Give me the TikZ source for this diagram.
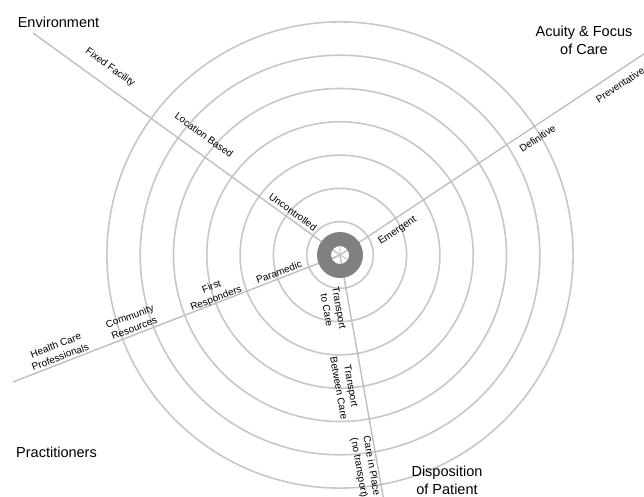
\documentclass[tikz,border=0pt]{standalone}
\usepackage{fontspec}
\setmainfont{Liberation Sans}
\begin{document}
\begin{tikzpicture}[x=1pt,y=-1pt,
  ring/.style={draw=black!22,line width=1.6pt},
  axis/.style={draw=black!25,line width=1.4pt},
  lbl/.style={font=\fontsize{10}{12.5}\selectfont,align=center,inner sep=0pt},
  head/.style={font=\fontsize{14.5}{18}\selectfont,align=center,inner sep=0pt}]
\useasboundingbox (0,0) rectangle (644,497);
\coordinate (ctr) at (340,255);
% rings
\foreach \r in {1,...,7}
  \draw[ring] (ctr) circle[radius={33.3pt*\r}];
% the four axes
\coordinate (envend) at (33,33);
\coordinate (acuend) at (662,42);
\coordinate (pracend) at (13,382);
\coordinate (dispend) at (385.5,510);
\draw[axis] (ctr) -- (envend);
\draw[axis] (ctr) -- (acuend);
\draw[axis] (ctr) -- (pracend);
\draw[axis] (ctr) -- (dispend);
% hub
\fill[black!50,even odd rule] (ctr) circle[radius=23pt] circle[radius=9pt];
\draw[black!22,line width=1pt] (ctr) -- ++(0,-8.5) (ctr) -- ++(-7.4,4.3) (ctr) -- ++(7.4,4.3);
% axis labels
\node[lbl,rotate=-36] (fixed) at (110,67.5) {Fixed Facility};
\node[lbl,rotate=-36] (locbased) at (204,135) {Location Based};
\node[lbl,rotate=-36] (uncontr) at (293,212) {Uncontrolled};
\node[lbl,rotate=33.6] (emergent) at (397.5,231) {Emergent};
\node[lbl,rotate=33.6] (definitive) at (537.5,138.5) {Definitive};
\node[lbl,rotate=33.6] (prevent) at (620,85) {Preventative};
\node[lbl,rotate=21] (paramedic) at (279,272) {Paramedic};
\node[lbl,rotate=21] (firstresp) at (214,293) {First\\Responders};
\node[lbl,rotate=21] (community) at (132,322) {Community\\Resources};
\node[lbl,rotate=21] (healthcare) at (58,351) {Health Care\\Professionals};
\node[lbl,rotate=-80] (transtocare) at (333,309) {Transport\\to Care};
\node[lbl,rotate=-80] (transbetween) at (345,387) {Transport\\Between Care};
\node[lbl,rotate=-80] (careinplace) at (365,467) {Care in Place\\(no transport)};
% headings
\node[head] (environment) at (58.5,22) {Environment};
\node[head] (acuity) at (584,40) {Acuity \& Focus\\of Care};
\node[head] (practitioners) at (56.5,452) {Practitioners};
\node[head] (disposition) at (447,480) {Disposition\\of Patient};
\end{tikzpicture}
\end{document}
